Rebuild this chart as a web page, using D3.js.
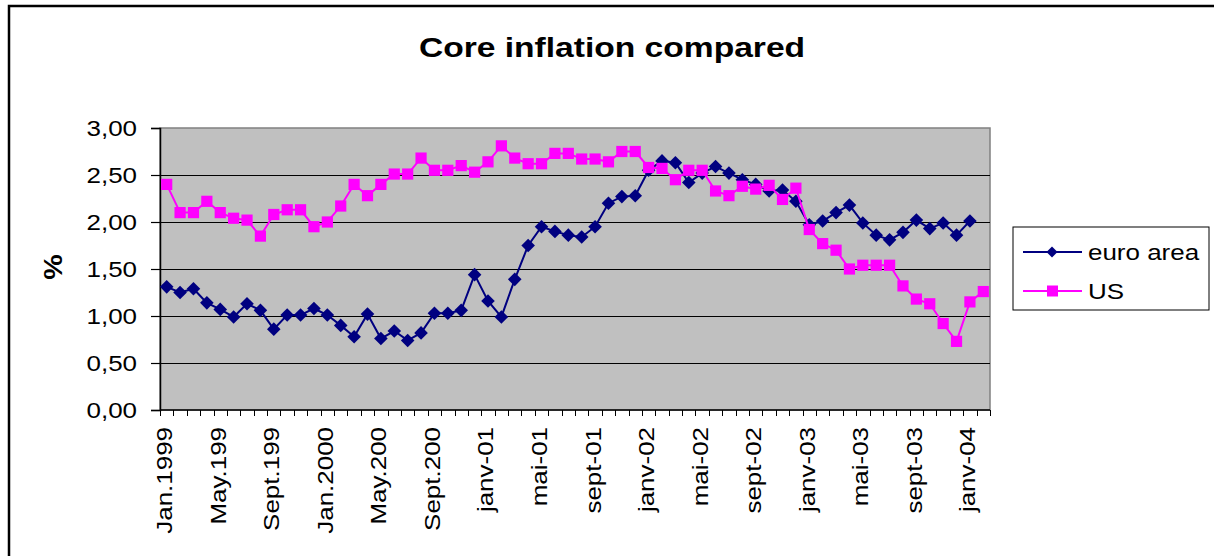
<!DOCTYPE html>
<html>
<head>
<meta charset="utf-8">
<script src="https://cdn.jsdelivr.net/npm/d3@7"></script>
<style>
  html, body { margin: 0; padding: 0; background: #fff; }
  svg { display: block; font-family: "Liberation Sans", Arial, sans-serif; }
</style>
</head>
<body>
<svg id="chart" width="1214" height="556"></svg>
<script>
// tick labels, one every 4 months starting Jan 1999
var tickLabels = ["Jan.1999", "May.199", "Sept.199", "Jan.2000", "May.200", "Sept.200",
  "janv-01", "mai-01", "sept-01", "janv-02", "mai-02", "sept-02",
  "janv-03", "mai-03", "sept-03", "janv-04"];

var seriesNames = ["euro area", "US"];

// monthly core inflation, %, Jan 1999 .. Jan 2004
var euroArea = [1.31, 1.25, 1.29, 1.14, 1.07, 0.99, 1.13, 1.06, 0.86, 1.01,
  1.01, 1.08, 1.01, 0.90, 0.78, 1.02, 0.76, 0.84, 0.74, 0.82,
  1.03, 1.03, 1.06, 1.44, 1.16, 0.99, 1.39, 1.75, 1.95, 1.90,
  1.86, 1.84, 1.95, 2.20, 2.27, 2.28, 2.55, 2.65, 2.63, 2.42,
  2.52, 2.59, 2.52, 2.45, 2.40, 2.33, 2.34, 2.22, 1.97, 2.01,
  2.10, 2.18, 1.99, 1.86, 1.81, 1.89, 2.02, 1.93, 1.99, 1.86,
  2.01];

// monthly core inflation, %, Jan 1999 .. Feb 2004
var us = [2.40, 2.10, 2.10, 2.22, 2.10, 2.04, 2.02, 1.85, 2.08, 2.13,
  2.13, 1.95, 2.00, 2.17, 2.40, 2.28, 2.40, 2.51, 2.51, 2.68,
  2.55, 2.55, 2.60, 2.53, 2.64, 2.81, 2.68, 2.62, 2.62, 2.73,
  2.73, 2.67, 2.67, 2.64, 2.75, 2.75, 2.58, 2.57, 2.45, 2.55,
  2.55, 2.33, 2.28, 2.38, 2.35, 2.39, 2.24, 2.36, 1.92, 1.77,
  1.70, 1.50, 1.54, 1.54, 1.54, 1.32, 1.18, 1.13, 0.92, 0.73,
  1.15, 1.26];

var yTicks = [0, 0.5, 1, 1.5, 2, 2.5, 3];

var svg = d3.select("#chart");
var plot = { left: 160, right: 990, top: 128, bottom: 410 };
var stretch = 1.18; // the original text is drawn a bit wide

// outer frame (only left and top are inside the picture)
svg.append("rect")
  .attr("x", 9).attr("y", 6)
  .attr("width", 1300).attr("height", 700)
  .attr("fill", "none").attr("stroke", "#000").attr("stroke-width", 2.5);

var x = d3.scaleBand()
  .domain(d3.range(us.length))
  .range([plot.left, plot.right]);

var y = d3.scaleLinear()
  .domain([0, 3])
  .range([plot.bottom, plot.top]);

// plot background
svg.append("rect")
  .attr("x", plot.left).attr("y", plot.top)
  .attr("width", plot.right - plot.left).attr("height", plot.bottom - plot.top)
  .attr("fill", "#c0c0c0").attr("stroke", "#808080").attr("stroke-width", 1.5);

// gridlines
svg.append("g").selectAll("line")
  .data(yTicks.filter(d => d > 0 && d < 3))
  .join("line")
  .attr("x1", plot.left).attr("x2", plot.right)
  .attr("y1", d => Math.round(y(d)) + 0.5).attr("y2", d => Math.round(y(d)) + 0.5)
  .attr("stroke", "#000").attr("stroke-width", 1);

// y axis
var yAxis = svg.append("g")
  .attr("transform", `translate(${plot.left},0)`)
  .call(d3.axisLeft(y).tickValues(yTicks).tickSize(9).tickFormat(""));
yAxis.select(".domain").attr("stroke", "#000").attr("stroke-width", 1.5);
yAxis.selectAll(".tick line").attr("stroke", "#000").attr("stroke-width", 1.2);

svg.append("g").selectAll("text")
  .data(yTicks)
  .join("text")
  .attr("transform", d => `translate(137,${y(d)}) scale(${stretch},1)`)
  .attr("dy", "0.36em")
  .attr("text-anchor", "end")
  .attr("font-size", 22)
  .attr("fill", "#000")
  .text(d => d3.format(".2f")(d).replace(".", ","));

// x axis: ticks on category boundaries
var bounds = d3.range(us.length + 1).map(i => plot.left + i * x.step());
svg.append("line")
  .attr("x1", plot.left).attr("x2", plot.right)
  .attr("y1", plot.bottom).attr("y2", plot.bottom)
  .attr("stroke", "#000").attr("stroke-width", 1.5);
svg.append("g").selectAll("line")
  .data(bounds)
  .join("line")
  .attr("x1", d => Math.round(d) + 0.5).attr("x2", d => Math.round(d) + 0.5)
  .attr("y1", plot.bottom).attr("y2", plot.bottom + 6)
  .attr("stroke", "#000").attr("stroke-width", 1);

svg.append("g").selectAll("text")
  .data(tickLabels)
  .join("text")
  .attr("transform", (d, i) => {
    var cx = x(i * 4) + x.bandwidth() / 2;
    return `translate(${cx},427) rotate(-90) scale(${stretch},1)`;
  })
  .attr("dy", "0.25em")
  .attr("text-anchor", "end")
  .attr("font-size", 22)
  .attr("fill", "#000")
  .text(d => d);

// y axis title
svg.append("text")
  .attr("transform", "translate(53,267) rotate(-90) scale(1.1,1)")
  .attr("dy", "0.36em")
  .attr("text-anchor", "middle")
  .attr("font-size", 26)
  .attr("font-weight", "bold")
  .text("%");

// title
svg.append("text")
  .attr("transform", `translate(612,57) scale(1.2,1)`)
  .attr("text-anchor", "middle")
  .attr("font-size", 28)
  .attr("font-weight", "bold")
  .text("Core inflation compared");

// series
var cxOf = i => x(i) + x.bandwidth() / 2;
var line = d3.line().x((d, i) => cxOf(i)).y(d => y(d));
var diamond = r => `M0,${-r}L${r},0L0,${r}L${-r},0Z`;

svg.append("path")
  .datum(euroArea)
  .attr("d", line)
  .attr("fill", "none").attr("stroke", "#000080").attr("stroke-width", 2);
svg.append("g").selectAll("path")
  .data(euroArea)
  .join("path")
  .attr("transform", (d, i) => `translate(${cxOf(i)},${y(d)})`)
  .attr("d", diamond(6.8))
  .attr("fill", "#000080");

svg.append("path")
  .datum(us)
  .attr("d", line)
  .attr("fill", "none").attr("stroke", "#ff00ff").attr("stroke-width", 2);
svg.append("g").selectAll("rect")
  .data(us)
  .join("rect")
  .attr("x", (d, i) => cxOf(i) - 5.6)
  .attr("y", d => y(d) - 5.6)
  .attr("width", 11.2).attr("height", 11.2)
  .attr("fill", "#ff00ff");

// legend
var legend = svg.append("g");
legend.append("rect")
  .attr("x", 1013).attr("y", 227)
  .attr("width", 196).attr("height", 83)
  .attr("fill", "#fff").attr("stroke", "#000").attr("stroke-width", 1);

var colors = ["#000080", "#ff00ff"];
var rows = legend.selectAll("g.row")
  .data(seriesNames)
  .join("g")
  .attr("class", "row")
  .attr("transform", (d, i) => `translate(0,${252 + i * 39})`);
rows.append("line")
  .attr("x1", 1023).attr("x2", 1082)
  .attr("stroke", (d, i) => colors[i]).attr("stroke-width", 2);
rows.filter((d, i) => i === 0).append("path")
  .attr("transform", "translate(1052,0)")
  .attr("d", diamond(5.5))
  .attr("fill", colors[0]);
rows.filter((d, i) => i === 1).append("rect")
  .attr("x", 1047).attr("y", -5.5)
  .attr("width", 11).attr("height", 11)
  .attr("fill", colors[1]);
rows.append("text")
  .attr("transform", `translate(1088,0) scale(${stretch},1)`)
  .attr("dy", "0.36em")
  .attr("font-size", 22)
  .attr("fill", "#000")
  .text(d => d);
</script>
</body>
</html>
